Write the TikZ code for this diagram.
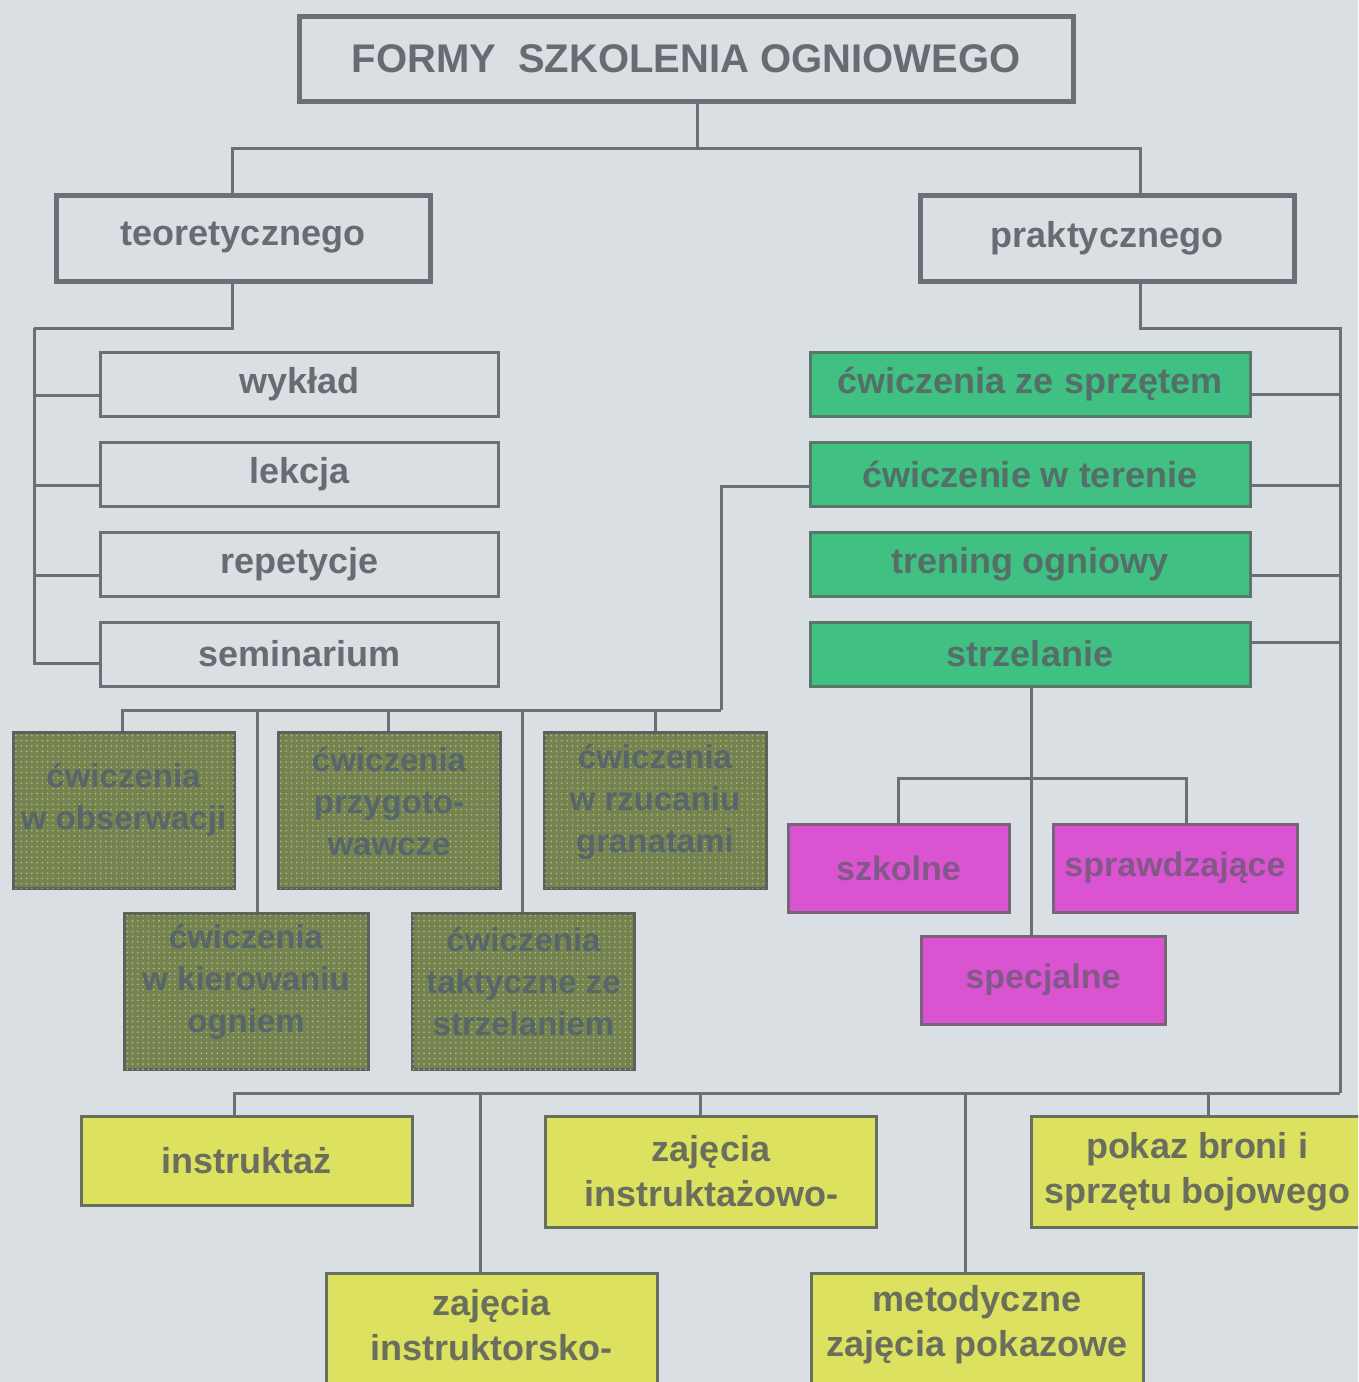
\documentclass[tikz,border=0pt]{standalone}
\usepackage{fontspec}
\setmainfont{Liberation Sans}
\usetikzlibrary{patterns.meta}
\definecolor{bgcol}{RGB}{218,223,227}
\definecolor{linecol}{RGB}{106,112,118}
\definecolor{txtcol}{RGB}{102,108,114}
\definecolor{greencol}{RGB}{64,192,130}
\definecolor{greenline}{RGB}{88,120,104}
\definecolor{greentxt}{RGB}{84,110,104}
\definecolor{olivecol}{RGB}{116,131,80}
\definecolor{olivedot}{RGB}{186,188,126}
\definecolor{oliveline}{RGB}{90,100,95}
\definecolor{olivetxt}{RGB}{86,102,106}
\definecolor{pinkcol}{RGB}{218,84,210}
\definecolor{pinkline}{RGB}{120,100,120}
\definecolor{pinktxt}{RGB}{130,88,136}
\definecolor{yellowcol}{RGB}{221,225,96}
\definecolor{yellowline}{RGB}{104,110,96}
\definecolor{yellowtxt}{RGB}{106,110,92}

\begin{document}
\begin{tikzpicture}[x=1pt,y=-1pt,
  line/.style={draw=linecol, line width=3pt},
  box/.style={draw=linecol, line width=3pt, rectangle, inner sep=0pt, align=center, text=txtcol, font=\bfseries\fontsize{36}{45}\selectfont},
  headbox/.style={box, line width=5pt, minimum width=374pt, minimum height=86pt},
  theorybox/.style={box, minimum width=398pt, minimum height=64pt},
  greenbox/.style={box, fill=greencol, draw=greenline, text=greentxt, minimum width=440pt, minimum height=64pt},
  olivebox/.style={box, fill=olivecol, draw=oliveline, text=olivetxt, minimum width=222pt, minimum height=156pt,
    font=\bfseries\fontsize{33}{42}\selectfont,
    postaction={pattern={Dots[distance=5.3pt, radius=0.9pt]}, pattern color=olivedot}},
  olivetext/.style={align=center, inner sep=0pt, text=olivetxt, font=\bfseries\fontsize{33}{42}\selectfont},
  pinkbox/.style={box, fill=pinkcol, draw=pinkline, text=pinktxt, minimum width=221pt, minimum height=88pt, font=\bfseries\fontsize{34}{42}\selectfont},
  yellowbox/.style={box, fill=yellowcol, draw=yellowline, text=yellowtxt, minimum width=331pt, minimum height=89pt},
  yellowtext/.style={align=center, inner sep=0pt, text=yellowtxt, font=\bfseries\fontsize{36}{45}\selectfont}]
\useasboundingbox (0,0) rectangle (1358,1382);
\fill[bgcol] (0,0) rectangle (1358,1382);
\clip (0,0) rectangle (1358,1382);

\node[headbox, minimum width=774pt, minimum height=85pt, font=\bfseries\fontsize{40}{48}\selectfont] (title) at (686,58.5) {FORMY\ \ SZKOLENIA OGNIOWEGO};
\node[headbox] (teor) at (243,238) {teoretycznego};
\node[headbox] (prak) at (1107,238) {praktycznego};

\node[theorybox] (wyklad) at (299.5,384) {wykład};
\node[theorybox] (lekcja) at (299.5,474) {lekcja};
\node[theorybox] (repetycje) at (299.5,564) {repetycje};
\node[theorybox] (seminarium) at (299.5,654) {seminarium};

\node[greenbox] (zesprzetem) at (1030,384) {ćwiczenia ze sprzętem};
\node[greenbox] (wterenie) at (1030,474) {ćwiczenie w terenie};
\node[greenbox] (trening) at (1030,564) {trening ogniowy};
\node[greenbox] (strzelanie) at (1030,654) {strzelanie};

% olive boxes, text set a little above centre
\node[olivebox, minimum width=221pt] (obserwacja) at (123.5,810.5) {};
\node[olivetext] (obserwacjatxt) at (123.5,800) {ćwiczenia\\w obserwacji};
\node[olivebox] (przygotowawcze) at (389,810.5) {};
\node[olivetext] (przygotowawczetxt) at (389,802) {ćwiczenia\\przygoto-\\wawcze};
\node[olivebox] (granaty) at (655,810.5) {};
\node[olivetext] (granatytxt) at (655,802) {ćwiczenia\\w rzucaniu\\granatami};
\node[olivebox, minimum width=244pt] (kierowanie) at (246,991.5) {};
\node[olivetext] (kierowanietxt) at (246,982) {ćwiczenia\\w kierowaniu\\ogniem};
\node[olivebox] (taktyczne) at (523.5,991.5) {};
\node[olivetext] (taktycznetxt) at (523.5,982) {ćwiczenia\\taktyczne ze\\strzelaniem};

\node[pinkbox] (szkolne) at (898.5,868) {szkolne};
\node[pinkbox, minimum width=244pt] (sprawdzajace) at (1175,868) {sprawdzające};
\node[pinkbox, minimum width=244pt] (specjalne) at (1043,980) {specjalne};

\node[yellowbox] (instruktaz) at (246.5,1160.5) {instruktaż};
\node[yellowbox, minimum height=111pt] (instruktazowo) at (711,1171.5) {zajęcia\\instruktażowo-};
\node[yellowbox, minimum height=111pt] (pokaz) at (1197,1171.5) {pokaz broni i\\sprzętu bojowego};
\node[yellowbox, minimum height=150pt] (instruktorsko) at (491.5,1348) {};
\node[yellowtext] (instruktorskotxt) at (491.5,1325) {zajęcia\\instruktorsko-};
\node[yellowbox, minimum height=150pt, minimum width=332pt] (metodyczne) at (977,1348) {};
\node[yellowtext] (metodycznetxt) at (977,1325) {metodyczne\\zajęcia pokazowe};

% junctions
\coordinate (j0) at (697,148);
\coordinate (jl) at (232,148);
\coordinate (jr) at (1140,148);
\coordinate (tl) at (34,328);
\coordinate (tr) at (1340,328);
\coordinate (jo) at (721,710);
\coordinate (jm) at (1031,778);
\coordinate (jb) at (1340,1093);

\draw[line] (title.south -| j0) -- (j0);
\draw[line] (teor.north -| jl) |- (jr) -- (prak.north -| jr);
\draw[line] (teor.south -| jl) |- (tl);
\foreach \n/\dy in {wyklad/11,lekcja/11,repetycje/11,seminarium/9}
  \draw[line] (\n.west) ++(0,\dy) -| (tl);
\draw[line] (prak.south -| jr) |- (tr) -- (jb);
\foreach \n/\dy in {zesprzetem/10,wterenie/11,trening/11,strzelanie/-12}
  \draw[line] (\n.east) ++(0,\dy) -| (tr);
\draw[line] (wterenie.west) ++(0,12) -| (jo);
\foreach \n/\dx in {obserwacja/-1.5,przygotowawcze/-1,granaty/0,kierowanie/11,taktyczne/-1.5}
  \draw[line] (\n.north) ++(\dx,0) |- (jo);
\draw[line] (strzelanie.south -| jm) -- (specjalne.north -| jm);
\foreach \n/\dx in {szkolne/0,sprawdzajace/11}
  \draw[line] (\n.north) ++(\dx,0) |- (jm);
\foreach \n/\dx in {instruktaz/-12,instruktazowo/-11,pokaz/11,instruktorsko/-11.5,metodyczne/-12}
  \draw[line] (\n.north) ++(\dx,0) |- (jb);
\end{tikzpicture}
\end{document}
